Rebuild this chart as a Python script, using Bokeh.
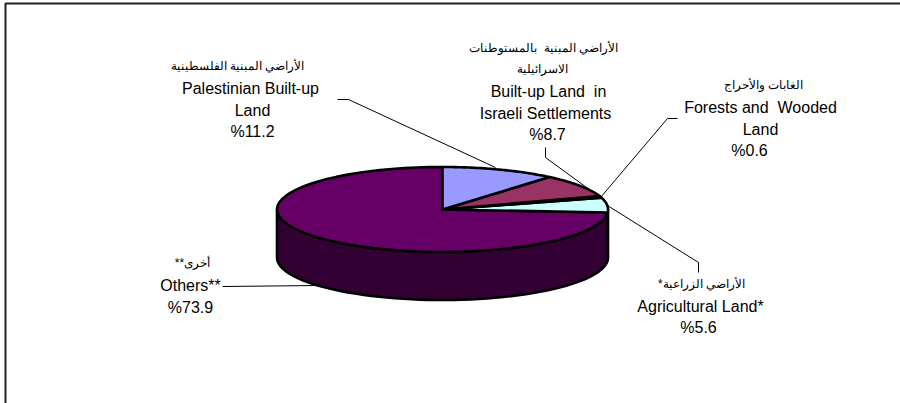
import math
from bokeh.plotting import figure
from bokeh.models import Range1d
from bokeh.core.properties import value
from bokeh.embed import file_html
from bokeh.resources import INLINE

categories = ["Palestinian Built-up Land", "Built-up Land in Israeli Settlements",
              "Forests and Wooded Land", "Agricultural Land*", "Others**"]
shares = [11.2, 8.7, 0.6, 5.6, 73.9]
top_colors = ["#9999FF", "#993366", "#FFFFCC", "#CCFFFF", "#660066"]
side_colors = ["#4D4D80", "#4D1A33", "#808066", "#668080", "#330033"]

CX, CY, RX, RY, DEPTH = 442.0, 209.0, 165.5, 42.5, 48.0
NB = "\u00a0"

labels = [
    ("الأراضي المبنية الفلسطينية", 237, 65, 12), ("Palestinian Built-up", 250, 88, 16), ("Land", 252, 110, 16), ("%11.2", 252, 131, 16),
    ("الأراضي المبنية" + NB + " بالمستوطنات", 543, 47, 12), ("الاسرائيلية", 542, 68, 12), ("Built-up Land" + NB + " in", 548, 91, 16), ("Israeli Settlements", 545, 113, 16), ("%8.7", 547, 134, 16),
    ("الغابات والأحراج", 763, 84, 12), ("Forests and" + NB + " Wooded", 760, 107, 16), ("Land", 760, 129, 16), ("%0.6", 749, 150, 16),
    ("*الأراضي الزراعية", 701, 283, 12), ("Agricultural Land*", 700, 306, 16), ("%5.6", 698, 327, 16),
    ("**أخرى", 192, 262, 12), ("Others**", 190, 285, 16), ("%73.9", 190, 307, 16),
]
leaders = [
    ([337, 348, 495], [99, 99, 167]),
    ([545, 545, 597], [147, 157, 195]),
    ([677, 667, 600], [118, 118, 197]),
    ([698, 698, 607], [272, 262, 205]),
    ([222, 318], [286, 285]),
]
frame = ([5, 5, 900], [403, 3, 3])

p = figure(width=900, height=403, output_backend="svg", toolbar_location=None,
           x_range=Range1d(0, 900), y_range=Range1d(403, 0), min_border=0,
           outline_line_color=None, background_fill_color="white", border_fill_color="white")
p.axis.visible = False
p.grid.visible = False
p.styles = {"position": "absolute", "left": "0px", "top": "0px"}

p.line(frame[0], frame[1], line_color="#222222", line_width=2)

def arc(a0, a1, n=60):
    pts = [a0 + (a1 - a0) * i / n for i in range(n + 1)]
    return ([CX + RX * math.sin(math.radians(a)) for a in pts],
            [CY - RY * math.cos(math.radians(a)) for a in pts])

total = sum(shares)
start = 0.0
spans = []
for s in shares:
    end = start + 360.0 * s / total
    spans.append((start, end))
    start = end

for xs, ys in leaders:
    p.line(xs, ys, line_color="black", line_width=1)

# cylinder wall: only the front half of the rim, 90 to 270 degrees
for (a0, a1), c in zip(spans, side_colors):
    lo, hi = max(a0, 90), min(a1, 270)
    if hi <= lo:
        continue
    xs, ys = arc(lo, hi)
    p.patch(xs + xs[::-1], ys + [y + DEPTH for y in ys[::-1]],
            fill_color=c, line_color="black", line_width=2.6, line_join="round")

# top face
for (a0, a1), c in zip(spans[::-1], top_colors[::-1]):
    xs, ys = arc(a0, a1)
    p.patch([CX] + xs + [CX], [CY] + ys + [CY],
            fill_color=c, line_color="black", line_width=2.6, line_join="round")

for t, x, y, size in labels:
    p.text([x], [y], text=[t], text_align="center", text_baseline="middle",
           text_font=value("Liberation Sans"), text_font_size=f"{size}px", text_color="black")

open("out.html", "w").write(file_html(p, INLINE))
